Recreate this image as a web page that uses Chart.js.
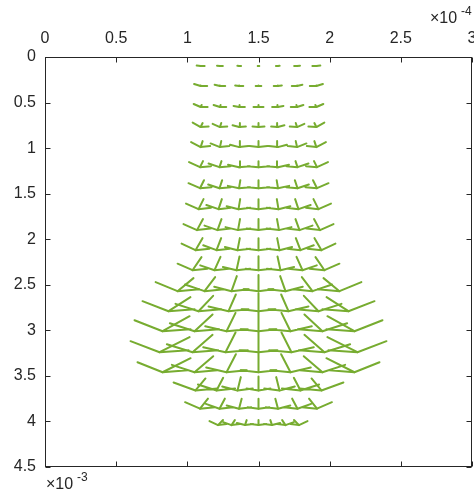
<!DOCTYPE html>
<html><head><meta charset="utf-8">
<script src="https://cdn.jsdelivr.net/npm/chart.js@4.4.1/dist/chart.umd.min.js"></script>
<style>html,body{margin:0;padding:0;background:#fff}#wrap{width:474px;height:492px;position:relative}</style>
</head><body><div id="wrap"><canvas id="c"></canvas></div>
<script>
// tick values (x in units of 1e-4, y in units of 1e-3)
const xTicks = [0, 0.5, 1, 1.5, 2, 2.5, 3];
const yTicks = [0, 0.5, 1, 1.5, 2, 2.5, 3, 3.5, 4, 4.5];
const xCenter = 1.5;              // ×1e-4
const colIndex = [-3, -2, -1, 0, 1, 2, 3];
// per-row values
const rowY       = [0.099,0.319,0.549,0.769,0.989,1.209,1.44,1.67,1.90,2.12,2.34,2.57,2.79,3.01,3.24,3.46,3.66,3.86,4.04]; // ×1e-3
const rowSpacing = [0.1355,0.1355,0.1355,0.1355,0.1355,0.137,0.137,0.1404,0.144,0.1475,0.1545,0.1896,0.2107,0.2247,0.2317,0.2247,0.1475,0.137,0.0948]; // ×1e-4
const stemCenter = [0,0.0055,0.022,0.044,0.066,0.066,0.088,0.11,0.121,0.132,0.154,0.176,0.198,0.22,0.242,0.22,0.154,0.11,0.055]; // ×1e-3
const stemOuter  = [0,0.0055,0.022,0.044,0.066,0.066,0.088,0.11,0.121,0.132,0.143,0.143,0.154,0.165,0.165,0.154,0.132,0.11,0.055]; // ×1e-3
const stemTilt   = [0,0,0.007,0.014,0.014,0.021,0.028,0.035,0.042,0.049,0.063,0.112,0.154,0.19,0.211,0.197,0.07,0.056,0.035]; // ×1e-4
const armCenter  = [0.0056,0.0197,0.035,0.042,0.063,0.077,0.077,0.081,0.084,0.084,0.091,0.105,0.119,0.126,0.133,0.126,0.084,0.077,0.056]; // ×1e-4
const armOuter   = [0.028,0.046,0.049,0.056,0.067,0.077,0.081,0.088,0.095,0.098,0.105,0.154,0.183,0.197,0.204,0.176,0.154,0.105,0.06]; // ×1e-4
const armRiseOut = [0.0055,0.022,0.033,0.044,0.044,0.044,0.044,0.044,0.049,0.055,0.055,0.077,0.088,0.099,0.099,0.088,0.066,0.055,0.033]; // ×1e-3
const armRiseMid = [0,0,0,0.0055,0.011,0.011,0.011,0.0165,0.0165,0.0165,0.0165,0.022,0.022,0.022,0.022,0.022,0.022,0.0165,0.011]; // ×1e-3

const stemPts = [], armPts = [];
const gap = x => ({x: x * 1e-4, y: null});
rowY.forEach((yr, r) => {
  colIndex.forEach(c => {
    const w = Math.abs(c) / 3, sg = Math.sign(c);
    const x = xCenter + c * rowSpacing[r];
    const y = yr;
    // stem: from node upward, leaning toward the centre
    const L = stemCenter[r] + (stemOuter[r] - stemCenter[r]) * w;
    const dx = -sg * stemTilt[r] * w;
    stemPts.push({x: x * 1e-4, y: y * 1e-3}, {x: (x + dx) * 1e-4, y: (y - L) * 1e-3}, gap(x));
    // arms: left and right from the node, the outward one raised
    const a = armCenter[r] + (armOuter[r] - armCenter[r]) * w;
    const riseL = armRiseMid[r] + (c < 0 ? armRiseOut[r] * w : 0);
    const riseR = armRiseMid[r] + (c > 0 ? armRiseOut[r] * w : 0);
    armPts.push({x: (x - a) * 1e-4, y: (y - riseL) * 1e-3}, {x: x * 1e-4, y: y * 1e-3}, {x: (x + a) * 1e-4, y: (y - riseR) * 1e-3}, gap(x));
  });
});

const GREEN = '#77AC30', INK = '#262626';
const FAM = '"Liberation Sans", Arial, Helvetica, sans-serif';
const FONT = {family: FAM, size: 16};

const boxPlugin = {
  id: 'box',
  afterDraw(chart) {
    const {ctx, chartArea: a, scales} = chart;
    ctx.save();
    ctx.strokeStyle = INK; ctx.lineWidth = 1;
    const L = Math.round(a.left) + 0.5, T = Math.round(a.top) + 0.5, R = Math.round(a.right) - 0.5, B = Math.round(a.bottom) - 0.5;
    ctx.strokeRect(L, T, R - L, B - T);
    const tl = 5;
    ctx.beginPath();
    xTicks.forEach(v => {
      const px = Math.round(scales.x.getPixelForValue(v * 1e-4)) + 0.5;
      ctx.moveTo(px, T); ctx.lineTo(px, T + tl);
      ctx.moveTo(px, B); ctx.lineTo(px, B - tl);
    });
    yTicks.forEach(v => {
      const py = Math.round(scales.y.getPixelForValue(v * 1e-3)) + 0.5;
      ctx.moveTo(L, py); ctx.lineTo(L + tl, py);
      ctx.moveTo(R, py); ctx.lineTo(R - tl, py);
    });
    ctx.stroke();
    ctx.fillStyle = INK;
    ctx.textBaseline = 'alphabetic';
    ctx.textAlign = 'left';
    ctx.font = '16px ' + FAM;
    ctx.fillText('\u00d710', 430, 23);
    ctx.font = '12px ' + FAM;
    ctx.fillText('-4', 461, 15);
    ctx.font = '16px ' + FAM;
    ctx.fillText('\u00d710', 46, 489);
    ctx.font = '12px ' + FAM;
    ctx.fillText('-3', 77, 481);
    ctx.restore();
  }
};

new Chart(document.getElementById('c'), {
  type: 'scatter',
  data: {
    datasets: [
      {data: armPts, showLine: true, spanGaps: false, borderColor: GREEN, borderWidth: 2, pointRadius: 0, borderCapStyle: 'round', borderJoinStyle: 'round', tension: 0},
      {data: stemPts, showLine: true, spanGaps: false, borderColor: GREEN, borderWidth: 2, pointRadius: 0, borderCapStyle: 'round', tension: 0}
    ]
  },
  options: {
    responsive: true, maintainAspectRatio: false, animation: false,
    layout: {padding: {left: 0, top: 0, right: 2, bottom: 25}},
    plugins: {legend: {display: false}, tooltip: {enabled: false}},
    scales: {
      x: {
        type: 'linear', position: 'top', min: 0, max: 3e-4,
        grid: {display: false, drawTicks: false}, border: {display: false},
        afterFit(s) { s.height = 57; s.paddingLeft = 0; s.paddingRight = 0; },
        afterBuildTicks(s) { s.ticks = xTicks.map(v => ({value: v * 1e-4})); },
        ticks: {color: INK, font: FONT, padding: 9, maxRotation: 0, autoSkip: false,
          callback: (v, i) => String(xTicks[i])}
      },
      y: {
        type: 'linear', reverse: true, min: 0, max: 4.5e-3,
        grid: {display: false, drawTicks: false}, border: {display: false},
        afterFit(s) { s.width = 45; s.paddingTop = 0; s.paddingBottom = 0; },
        afterBuildTicks(s) { s.ticks = yTicks.map(v => ({value: v * 1e-3})); },
        ticks: {color: INK, font: FONT, padding: 9, autoSkip: false,
          callback: (v, i) => String(yTicks[i])}
      }
    }
  },
  plugins: [boxPlugin]
});
</script>
</body></html>
